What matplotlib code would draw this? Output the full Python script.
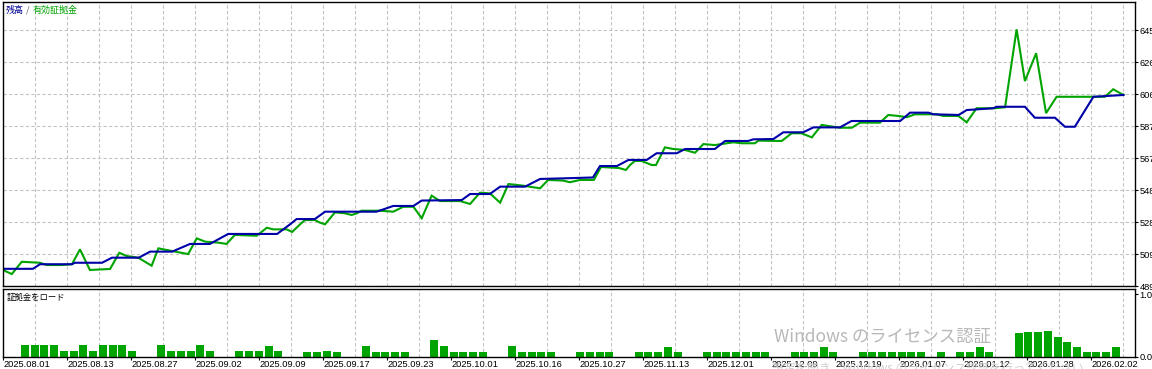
import matplotlib
matplotlib.use('Agg')
import matplotlib.pyplot as plt
import numpy as np

# x = position on the tester scale (10 units per grid column), values in account currency
bal_x = [0, 9.2, 11.4, 21.4, 22.3, 30.8, 33.9, 42.3, 45.8, 52.7, 58.3, 64.5, 70.2, 85.5,
         89.5, 91.6, 97.3, 100.5, 116.6, 121.8, 128.1, 130.7, 143.2, 145.8, 152.0, 155.2,
         163.0, 167.7, 175.5, 184.2, 186.4, 191.7, 195.3, 201.0, 204.1, 210.4, 213.0, 222.3,
         225.5, 232.7, 234.3, 240.6, 243.7, 249.9, 253.1, 261.4, 265.0, 280.2, 283.3, 289.0,
         290.6, 298.5, 301.0, 304.1, 309.3, 310.4, 319.2, 322.3, 328.6, 331.7, 334.8, 340.6,
         350.0]
bal_v = [5000, 5000, 5028, 5028, 5037, 5037, 5068, 5068, 5105, 5105, 5152, 5152, 5213, 5213,
         5271, 5304, 5304, 5349, 5349, 5384, 5384, 5417, 5420, 5457, 5457, 5502,
         5502, 5549, 5553, 5558, 5628, 5628, 5665, 5665, 5706, 5706, 5732, 5732,
         5781, 5781, 5791, 5793, 5834, 5834, 5864, 5864, 5903, 5903, 5954, 5954,
         5944, 5940, 5970, 5974, 5981, 5990, 5990, 5923, 5923, 5868, 5868, 6051,
         6062]

eq_x = [0, 2.6, 5.7, 11.4, 13.5, 18.2, 21.4, 23.9, 27.0, 33.3, 36.2, 38.5, 42.1, 46.3, 48.4,
        52.6, 57.7, 60.4, 63.0, 67.1, 69.7, 72.3, 79.1, 82.3, 84.3, 88.5, 90.2, 92.7, 94.2,
        97.3, 98.9, 100.5, 103.6, 106.7, 108.8, 110.4, 111.9, 117.7, 121.8, 124.9, 128.1,
        130.7, 133.8, 136.4, 142.7, 145.8, 148.9, 152.0, 155.2, 157.8, 162.4, 165.6, 167.7,
        170.2, 174.9, 177.0, 180.2, 184.5, 186.7, 192.3, 194.5, 195.8, 197.3, 199.4, 202.6,
        203.9, 206.7, 209.3, 213.0, 216.1, 218.7, 222.3, 228.1, 230.7, 234.8, 235.9, 243.2,
        246.3, 249.4, 252.6, 255.7, 257.3, 261.4, 265.1, 267.7, 273.9, 276.5, 279.6, 282.3,
        284.8, 291.6, 293.7, 298.4, 301.0, 304.1, 309.8, 313.0, 316.6, 319.2, 322.7, 325.8,
        329.1, 344.2, 346.8, 349.4, 350.0]
eq_v = [4991, 4968, 5043, 5037, 5023, 5023, 5028, 5119, 4993, 4999, 5098, 5078, 5068, 5019, 5125,
        5109, 5090, 5186, 5166, 5160, 5152, 5207, 5202, 5251, 5241, 5241, 5225, 5272, 5298,
        5298, 5282, 5272, 5345, 5339, 5329, 5339, 5355, 5355, 5349, 5379, 5379,
        5309, 5447, 5414, 5414, 5396, 5465, 5461, 5404, 5518, 5508, 5498, 5492,
        5543, 5539, 5529, 5543, 5543, 5622, 5616, 5604, 5634, 5659, 5659, 5634,
        5634, 5742, 5732, 5726, 5709, 5762, 5756, 5773, 5767, 5767, 5783, 5781,
        5828, 5828, 5803, 5879, 5874, 5862, 5862, 5893, 5893, 5940, 5934, 5926,
        5944, 5944, 5934, 5934, 5895, 5981, 5981, 5987, 6463, 6147, 6317, 5951,
        6051, 6051, 6097, 6068, 6064]

# deposit load histogram: trading day number, load (0..1)
load_day = [0, 1, 2, 3, 4, 5, 6, 7, 8, 9, 10, 11, 14, 15, 16, 17, 18, 19, 22, 23, 24, 25, 26,
            29, 30, 31, 32, 35, 36, 37, 38, 39, 42, 43, 44, 45, 46, 47, 50, 51, 52, 53, 54,
            57, 58, 59, 60, 63, 64, 65, 66, 67, 70, 71, 72, 73, 74, 75, 76, 79, 80, 81, 82, 83,
            86, 87, 88, 89, 90, 91, 92, 94, 96, 97, 98, 99, 102, 103, 104, 105, 106, 107, 108,
            109, 110, 111, 112]
load_v = [0.19, 0.19, 0.19, 0.19, 0.095, 0.095, 0.19, 0.095, 0.19, 0.19, 0.19, 0.095,
          0.19, 0.095, 0.095, 0.095, 0.19, 0.095, 0.095, 0.095, 0.095, 0.175, 0.095,
          0.08, 0.08, 0.095, 0.08, 0.175, 0.08, 0.08, 0.08, 0.08, 0.27, 0.175, 0.08, 0.08, 0.08, 0.08,
          0.175, 0.08, 0.08, 0.08, 0.08, 0.08, 0.08, 0.08, 0.08, 0.08, 0.08, 0.08, 0.16, 0.08,
          0.08, 0.08, 0.08, 0.08, 0.08, 0.08, 0.08, 0.08, 0.08, 0.08, 0.16, 0.08,
          0.08, 0.08, 0.08, 0.08, 0.08, 0.08, 0.08, 0.08, 0.08, 0.08, 0.16, 0.08,
          0.38, 0.40, 0.40, 0.41, 0.32, 0.24, 0.16, 0.08, 0.08, 0.08, 0.16]

date_labels = ['2025.08.01', '2025.08.13', '2025.08.27', '2025.09.02', '2025.09.09',
               '2025.09.17', '2025.09.23', '2025.10.01', '2025.10.16', '2025.10.27',
               '2025.11.13', '2025.12.01', '2025.12.09', '2025.12.19', '2026.01.07',
               '2026.01.12', '2026.01.28', '2026.02.02']
value_ticks = [4895, 5090, 5286, 5481, 5677, 5872, 6068, 6263, 6459]

# day -> tester scale
DAY0 = 6.72
DAY_STEP = 3.044

BLUE = '#0000a8'
GREEN = '#00a400'
GRID = '#c4c4c4'
JP = ['Noto Sans CJK JP', 'DejaVu Sans']

plt.rcParams['font.family'] = ['Liberation Sans', 'DejaVu Sans']

W, H = 1152, 369
fig = plt.figure(figsize=(W / 100, H / 100), dpi=100)


def box(l, t, r, b):
    return [l / W, 1 - b / H, (r - l) / W, (b - t) / H]


ax = fig.add_axes(box(2.5, 2, 1135, 286))
ax2 = fig.add_axes(box(2.5, 288.5, 1135, 357))

grid_x = np.arange(10, 351, 10)
for a in (ax, ax2):
    a.set_xlim(-0.31, 353.6)
    for s in a.spines.values():
        s.set_linewidth(1.0)
        s.set_color('black')
    a.set_xticks(grid_x, minor=True)
    a.grid(True, which='minor', axis='x', color=GRID, lw=0.8, ls=(0, (3, 2)))
    a.tick_params(which='minor', length=0)
    a.yaxis.tick_right()
    a.tick_params(axis='y', length=2.2, width=0.8, pad=1, labelsize=6.7)

# top: balance / equity
ax.plot(eq_x, eq_v, color=GREEN, lw=1.5, solid_joinstyle='miter')
ax.plot(bal_x, bal_v, color=BLUE, lw=1.5, solid_joinstyle='miter')
ax.set_ylim(4895, 4895 + 284 * 195.5 / 32)
ax.set_yticks(value_ticks)
ax.set_yticklabels([str(v) for v in value_ticks])
ax.grid(True, which='major', axis='y', color=GRID, lw=0.8, ls=(0, (3, 2)))
ax.set_xticks([])

# bottom: deposit load
ax2.bar(DAY0 + np.array(load_day) * DAY_STEP, load_v, width=2.5, color=GREEN, zorder=2)
ax2.set_ylim(0, 68.5 / 63)
ax2.set_yticks([0, 1])
ax2.set_yticklabels(['0.0', '1.0'])
ax2.set_xticks(np.arange(0, 341, 20))
ax2.set_xticklabels(date_labels)
ax2.tick_params(axis='x', which='major', length=2.2, width=0.8, pad=0, labelsize=6.7)
for t in ax2.get_xticklabels():
    t.set_horizontalalignment('left')

# captions
fig.text(6 / W, 1 - 10 / H, '残高', color='#000090', fontsize=6.5, family=JP, va='center')
fig.text(26 / W, 1 - 10 / H, '/', color='#606060', fontsize=6.5, family=JP, va='center')
fig.text(33 / W, 1 - 10 / H, '有効証拠金', color=GREEN, fontsize=6.5, family=JP, va='center')
fig.text(7 / W, 1 - 297 / H, '証拠金をロード', color='black', fontsize=6, family=JP, va='center')

# windows activation overlay
fig.text(774 / W, 1 - 337 / H, 'Windows のライセンス認証', color='#b8b8b8', fontsize=12.5,
         family=JP, va='center')
fig.text(772 / W, 1 - 368 / H, '設定を開き、Windows のライセンス認証を行ってください。',
         color='#d0d0d0', fontsize=8.5, family=JP, va='center')

fig.savefig('out.png', dpi=100)
